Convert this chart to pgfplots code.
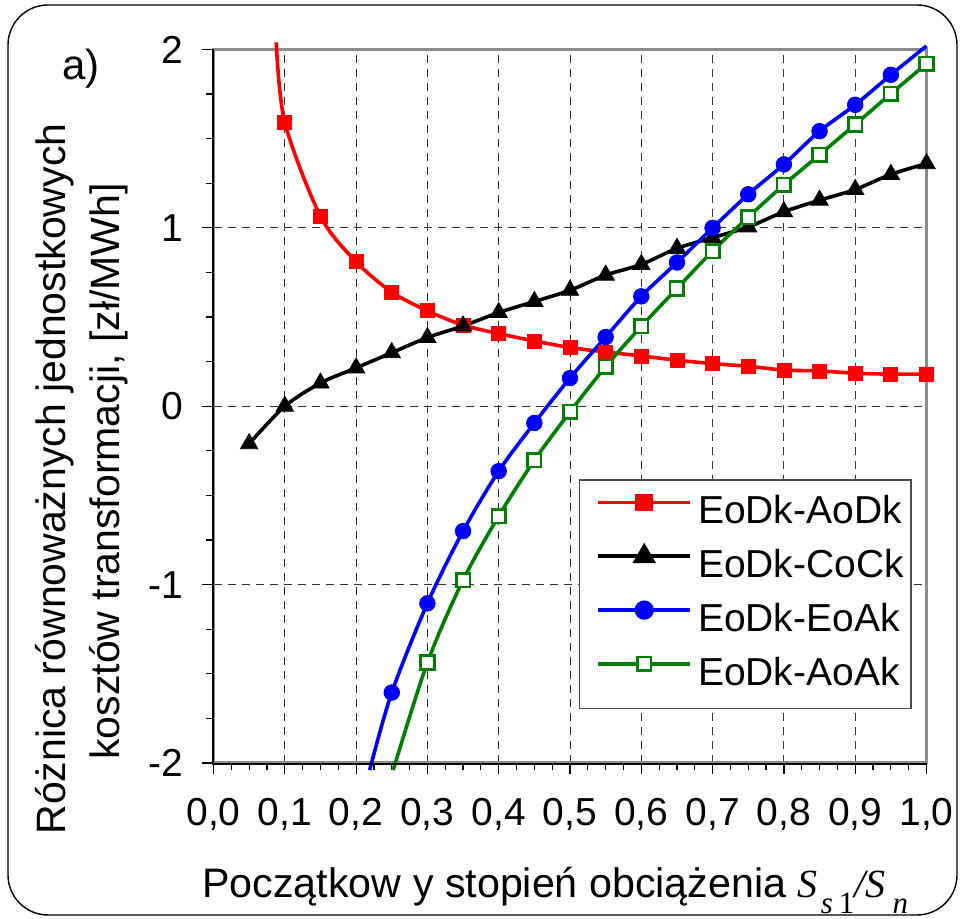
\documentclass[border=0pt]{standalone}
\usepackage{pgfplots}
\pgfplotsset{compat=1.18}
\usepackage{fontspec}
\setmainfont{Liberation Sans}
\newfontfamily\timesf{Liberation Serif}
\definecolor{exred}{RGB}{255,0,0}
\definecolor{exblue}{RGB}{0,0,255}
\definecolor{exgreen}{RGB}{0,128,0}
\definecolor{bordergray}{RGB}{140,140,140}
\begin{document}
\begin{tikzpicture}
\useasboundingbox (0,0) rectangle (480pt,459.5pt);
\draw[line width=0.7pt, rounded corners=20pt] (4pt,2pt) rectangle (478.5pt,457pt);
\begin{axis}[
  at={(106.75pt,78pt)}, anchor=south west,
  scale only axis, width=356.5pt, height=356.75pt,
  xmin=0, xmax=1, ymin=-2, ymax=2,
  xtick={0,0.1,0.2,0.3,0.4,0.5,0.6,0.7,0.8,0.9,1},
  xticklabels={{0,0},{0,1},{0,2},{0,3},{0,4},{0,5},{0,6},{0,7},{0,8},{0,9},{1,0}},
  ytick={-2,-1,0,1,2},
  yticklabels={-2,-1,0,1,2},
  minor x tick num=3, minor y tick num=3,
  tick align=outside, tick pos=left,
  major tick length=5.5pt, minor tick length=3.5pt,
  tick style={black, line width=0.6pt},
  grid=major,
  major grid style={black!80, line width=0.5pt, dash pattern=on 4pt off 3pt},
  axis line style={bordergray, line width=1.5pt},
  clip=false,
  tick label style={font=\fontsize{19.5}{19.5}\selectfont},
  xticklabel style={yshift=-8.5pt},
  yticklabel style={xshift=-6pt},
  /pgf/number format/assume math mode=true,
  legend cell align=left,
  legend style={at={(0.979,0.0757)}, anchor=south east, draw=black!70, line width=0.6pt,
    fill=white, font=\fontsize{19.5}{19.5}\selectfont, row sep=0pt,
    inner xsep=0.5pt, inner ysep=3.3pt,
    nodes={inner ysep=3.2pt, inner xsep=3pt, text height=15.5pt, text depth=5pt}},
  legend image code/.code={\path (0pt,5.5pt); \draw[mark repeat=2,mark phase=2] plot coordinates {(8pt,5.5pt) (31pt,5.5pt) (54pt,5.5pt)};},
]
% EoDk-AoDk
\addplot[exred, line width=1.8pt, smooth, tension=0.5, forget plot] coordinates {
(0.088,2.04) (0.10,1.59) (0.15,1.065) (0.20,0.81) (0.25,0.64) (0.30,0.535) (0.35,0.455)
(0.40,0.407) (0.45,0.366) (0.50,0.329) (0.55,0.304) (0.60,0.282) (0.65,0.258) (0.70,0.239)
(0.75,0.224) (0.80,0.203) (0.85,0.198) (0.90,0.185) (0.95,0.18) (1.00,0.18)};
\addplot[exred, only marks, mark=square*, mark size=3.5pt, forget plot] coordinates {
(0.10,1.59) (0.15,1.065) (0.20,0.81) (0.25,0.64) (0.30,0.535) (0.35,0.455)
(0.40,0.407) (0.45,0.366) (0.50,0.329) (0.55,0.304) (0.60,0.282) (0.65,0.258) (0.70,0.239)
(0.75,0.224) (0.80,0.203) (0.85,0.198) (0.90,0.185) (0.95,0.18) (1.00,0.18)};
% EoDk-CoCk
\addplot[black, line width=1.8pt, smooth, tension=0.5, forget plot] coordinates {
(0.05,-0.21) (0.10,0.0) (0.15,0.13) (0.20,0.215) (0.25,0.30) (0.30,0.385) (0.35,0.45)
(0.40,0.525) (0.45,0.587) (0.50,0.65) (0.55,0.735) (0.60,0.795) (0.65,0.885) (0.70,0.945)
(0.75,1.005) (0.80,1.09) (0.85,1.155) (0.90,1.215) (0.95,1.30) (1.00,1.36)};
\addplot[black, only marks, mark=triangle*, mark size=5pt, forget plot] coordinates {
(0.05,-0.21) (0.10,0.0) (0.15,0.13) (0.20,0.215) (0.25,0.30) (0.30,0.385) (0.35,0.45)
(0.40,0.525) (0.45,0.587) (0.50,0.65) (0.55,0.735) (0.60,0.795) (0.65,0.885) (0.70,0.945)
(0.75,1.005) (0.80,1.09) (0.85,1.155) (0.90,1.215) (0.95,1.30) (1.00,1.36)};
% EoDk-EoAk
\addplot[exblue, line width=1.8pt, smooth, tension=0.5, forget plot] coordinates {
(0.219,-2.04) (0.25,-1.605) (0.30,-1.105) (0.35,-0.70) (0.40,-0.364) (0.45,-0.094)
(0.50,0.158) (0.55,0.388) (0.60,0.616) (0.65,0.806) (0.70,1.0) (0.75,1.188) (0.80,1.356)
(0.85,1.542) (0.90,1.69) (0.95,1.858) (1.0,2.02)};
\addplot[exblue, only marks, mark=*, mark size=3.9pt, forget plot] coordinates {
(0.25,-1.605) (0.30,-1.105) (0.35,-0.70) (0.40,-0.364) (0.45,-0.094)
(0.50,0.158) (0.55,0.388) (0.60,0.616) (0.65,0.806) (0.70,1.0) (0.75,1.188) (0.80,1.356)
(0.85,1.542) (0.90,1.69) (0.95,1.858)};
% EoDk-AoAk
\addplot[exgreen, line width=1.8pt, smooth, tension=0.5, forget plot] coordinates {
(0.252,-2.04) (0.30,-1.437) (0.35,-0.975) (0.40,-0.616) (0.45,-0.303) (0.50,-0.032)
(0.55,0.222) (0.60,0.448) (0.65,0.66) (0.70,0.87) (0.75,1.06) (0.80,1.242) (0.85,1.41)
(0.90,1.58) (0.95,1.752) (1.00,1.92)};
\addplot[exgreen, only marks, mark=square*, mark size=3.4pt, mark options={fill=white, line width=1.3pt}, forget plot] coordinates {
(0.30,-1.437) (0.35,-0.975) (0.40,-0.616) (0.45,-0.303) (0.50,-0.032)
(0.55,0.222) (0.60,0.448) (0.65,0.66) (0.70,0.87) (0.75,1.06) (0.80,1.242) (0.85,1.41)
(0.90,1.58) (0.95,1.752) (1.00,1.92)};
\draw[black, line width=1pt] ([xshift=-0.4pt]rel axis cs:0,1) -- ([xshift=-0.4pt,yshift=-0.4pt]rel axis cs:0,0) -- ([yshift=-0.4pt]rel axis cs:1,0);
\addlegendimage{exred, line width=1.8pt, mark=square*, mark size=3.5pt}
\addlegendentry{EoDk-AoDk}
\addlegendimage{black, line width=1.8pt, mark=triangle*, mark size=5pt}
\addlegendentry{EoDk-CoCk}
\addlegendimage{exblue, line width=1.8pt, mark=*, mark size=3.9pt}
\addlegendentry{EoDk-EoAk}
\addlegendimage{exgreen, line width=1.8pt, mark=square*, mark size=3.4pt, mark options={fill=white, line width=1.3pt}}
\addlegendentry{EoDk-AoAk}
\end{axis}
\node[anchor=base west, inner sep=0pt, font=\fontsize{21}{21}\selectfont] at (31pt,419.5pt) {a)};
\node[anchor=base, rotate=90, inner sep=0pt, font=\fontsize{20.5}{20.5}\selectfont] at (32.5pt,220pt) {Różnica równoważnych jednostkowych};
\node[anchor=base, rotate=90, inner sep=0pt, font=\fontsize{20.5}{20.5}\selectfont] at (60pt,223.75pt) {kosztów transformacji, [zł/MWh]};
\node[anchor=base west, inner sep=0pt, font=\fontsize{20.6}{20.6}\selectfont] at (101pt,10.5pt) {Początkow y stopień obciążenia {\timesf\itshape\fontsize{20}{20}\selectfont S\hspace{1.5pt}\raisebox{-8pt}{\fontsize{15.5}{15.5}\selectfont s\hspace{3pt}\upshape 1}/S\hspace{3.5pt}\raisebox{-8pt}{\fontsize{15.5}{15.5}\selectfont n}}};
\end{tikzpicture}
\end{document}
